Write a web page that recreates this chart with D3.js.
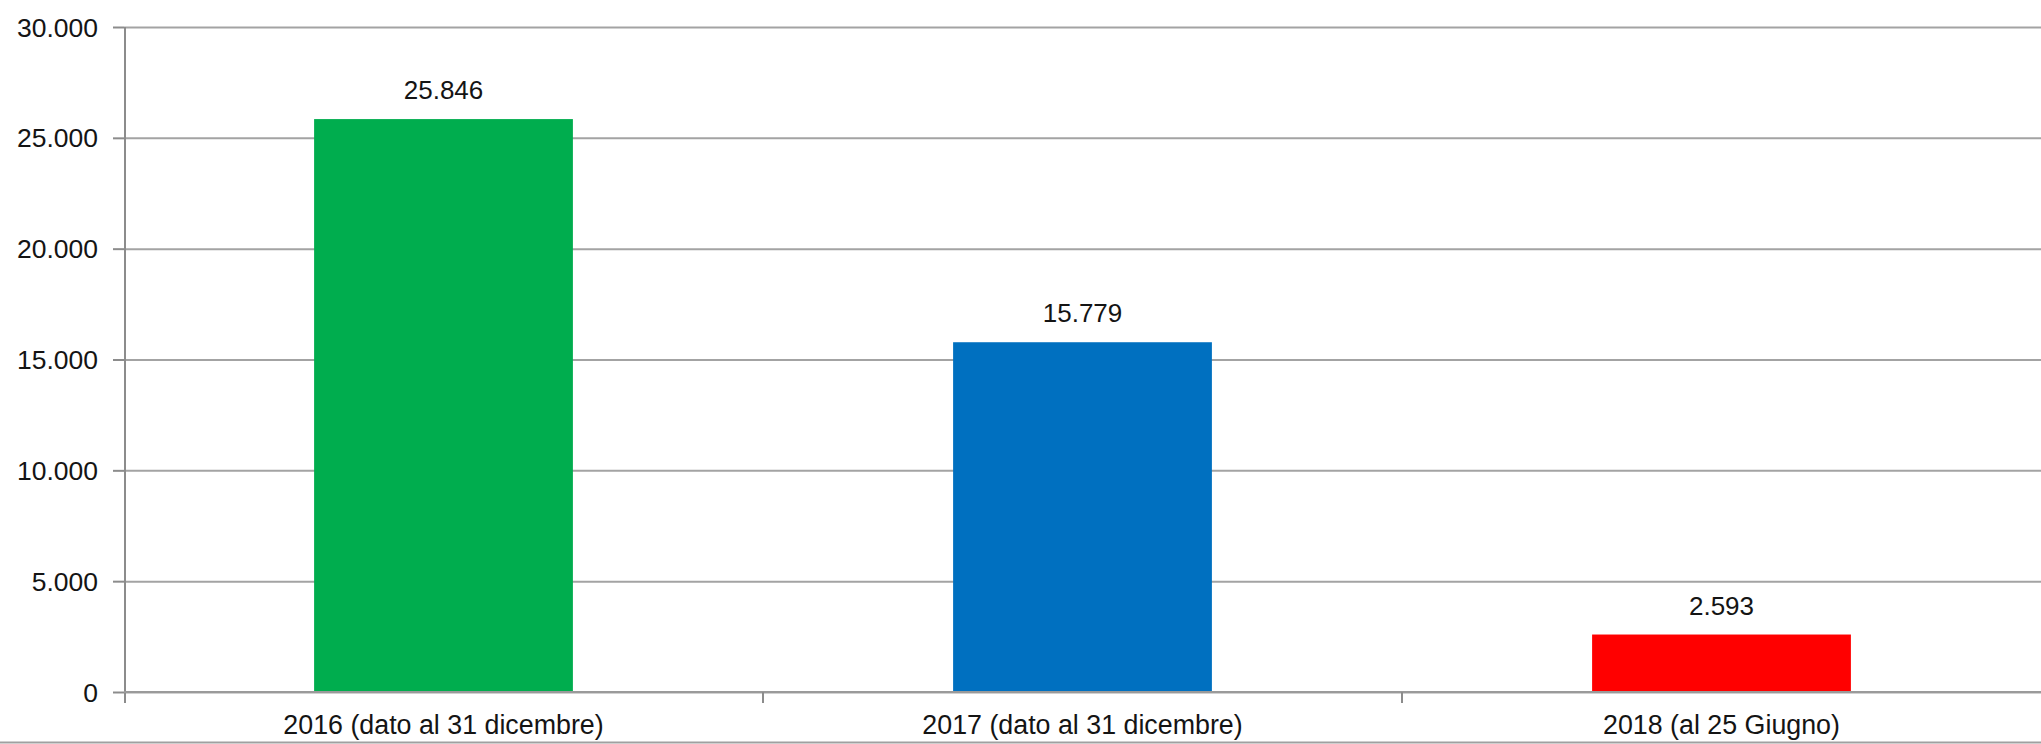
<!DOCTYPE html>
<html><head><meta charset="utf-8">
<script src="https://cdn.jsdelivr.net/npm/d3@7"></script>
<style>html,body{margin:0;padding:0;background:#fff;} svg{display:block;}</style>
</head><body>
<svg id="chart" width="2041" height="744"></svg>
<script>
const categories = ["2016 (dato al 31 dicembre)", "2017 (dato al 31 dicembre)", "2018 (al 25 Giugno)"];
const values = [25846, 15779, 2593];
const barColors = ["#00AD4E", "#0070C0", "#FF0000"];
const yTicks = [0, 5000, 10000, 15000, 20000, 25000, 30000];

const W = 2041, H = 744;
const m = {left: 124, right: 0, top: 27, bottom: 52};
const pw = W - m.left - m.right, ph = H - m.top - m.bottom;
const it = d3.formatLocale({decimal: ",", thousands: ".", grouping: [3], currency: ["€", ""]});
const fmt = it.format(",d");
const font = "'Liberation Sans', Arial, sans-serif";
const textCol = "#141414";

const svg = d3.select("#chart");
const g = svg.append("g").attr("transform", `translate(${m.left},${m.top})`);

const p = 0.595;
const x = d3.scaleBand().domain(categories).range([0, pw]).paddingInner(p).paddingOuter(p / 2);
const y = d3.scaleLinear().domain([0, 30000]).range([ph, 0]);

// gridlines
const grid = g.append("g").call(d3.axisLeft(y).tickValues(yTicks).tickSize(-pw).tickFormat(""));
grid.select(".domain").remove();
grid.selectAll("line").attr("stroke", "#a3a3a3").attr("stroke-width", 2);

// bars
g.selectAll("rect.bar").data(values).join("rect")
  .attr("class", "bar")
  .attr("x", (d, i) => x(categories[i]))
  .attr("width", x.bandwidth())
  .attr("y", d => y(d))
  .attr("height", d => y(0) - y(d))
  .attr("fill", (d, i) => barColors[i]);

// value labels
g.selectAll("text.val").data(values).join("text")
  .attr("class", "val")
  .attr("x", (d, i) => x(categories[i]) + x.bandwidth() / 2)
  .attr("y", d => y(d) - 20)
  .attr("text-anchor", "middle")
  .attr("font-family", font).attr("font-size", 26)
  .attr("fill", textCol)
  .text(d => fmt(d));

// y axis
const ya = g.append("g").call(d3.axisLeft(y).tickValues(yTicks).tickSize(11).tickPadding(15).tickFormat(d => fmt(d)));
ya.select(".domain").remove();
ya.selectAll("line").attr("stroke", "#8c8c8c").attr("stroke-width", 2);
ya.selectAll("text").attr("font-family", font).attr("font-size", 26.5).attr("fill", textCol).attr("dy", "0.34em");
g.append("line").attr("x1", 1).attr("x2", 1).attr("y1", 0).attr("y2", ph + 11)
  .attr("stroke", "#8c8c8c").attr("stroke-width", 2);

// x axis line
g.append("line").attr("x1", 0).attr("x2", pw).attr("y1", ph).attr("y2", ph)
  .attr("stroke", "#9a9a9a").attr("stroke-width", 2);

// x ticks at interior category boundaries
const bounds = categories.map(c => x(c) - x.step() * x.paddingOuter());
g.selectAll("line.xt").data(bounds.slice(1)).join("line")
  .attr("class", "xt")
  .attr("x1", d => d).attr("x2", d => d)
  .attr("y1", ph).attr("y2", ph + 11)
  .attr("stroke", "#8c8c8c").attr("stroke-width", 2);

// x labels
g.selectAll("text.cat").data(categories).join("text")
  .attr("class", "cat")
  .attr("x", c => x(c) + x.bandwidth() / 2)
  .attr("y", ph + 42)
  .attr("text-anchor", "middle")
  .attr("font-family", font).attr("font-size", 26.8)
  .attr("fill", textCol)
  .text(c => c);

// bottom border line
svg.append("line").attr("x1", 0).attr("x2", W).attr("y1", 742.5).attr("y2", 742.5)
  .attr("stroke", "#a0a0a0").attr("stroke-width", 2);
</script>
</body></html>
